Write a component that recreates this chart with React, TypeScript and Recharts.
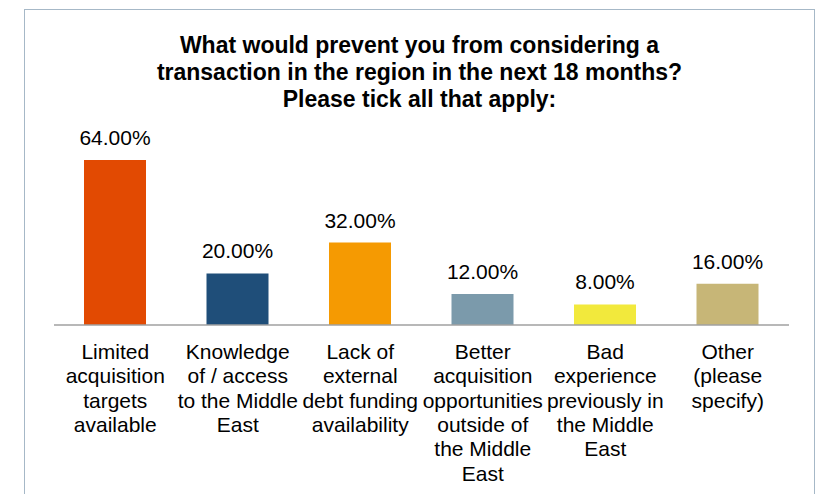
import React from 'react';
import { BarChart, Bar, XAxis, YAxis, Cell, LabelList } from 'recharts';

// Survey question: reasons that would prevent a transaction in the region.
const categories = [
  'Limited acquisition targets available',
  'Knowledge of / access to the Middle East',
  'Lack of external debt funding availability',
  'Better acquisition opportunities outside of the Middle East',
  'Bad experience previously in the Middle East',
  'Other (please specify)',
];

// Tick labels, broken into lines as in the original chart.
const tickLines = [
  ['Limited', 'acquisition', 'targets', 'available'],
  ['Knowledge', 'of / access', 'to the Middle', 'East'],
  ['Lack of', 'external', 'debt funding', 'availability'],
  ['Better', 'acquisition', 'opportunities', 'outside of', 'the Middle', 'East'],
  ['Bad', 'experience', 'previously in', 'the Middle', 'East'],
  ['Other', '(please', 'specify)'],
];

const percentages = [64, 20, 32, 12, 8, 16];

const barColors = ['#e24a02', '#1f4e79', '#f59a02', '#7b9aab', '#f2e93c', '#c7b677'];

const titleLines = [
  'What would prevent you from considering a',
  'transaction in the region in the next 18 months?',
  'Please tick all that apply:',
];

const data = categories.map((name, i) => ({ name, value: percentages[i], idx: i }));

const FONT = '"Liberation Sans", Arial, sans-serif';

// Multi-line category label under each bar
const CategoryTick = ({ x, y, index }: any) => {
  const lines = tickLines[index] || [];
  return (
    <text x={x} y={y} textAnchor="middle" fill="#000" fontSize={21} fontFamily={FONT}>
      {lines.map((line, i) => (
        <tspan key={i} x={x} dy={i === 0 ? 34 : 24.3}>
          {line}
        </tspan>
      ))}
    </text>
  );
};

const App: React.FC = () => {
  return (
    <div style={{ position: 'absolute', left: 0, top: 0, width: 820, height: 494, overflow: 'hidden', background: '#fff' }}>
      {/* frame around the chart, bottom edge runs off the page */}
      <div
        style={{
          position: 'absolute',
          left: 24,
          top: 9,
          width: 791,
          height: 600,
          border: '1px solid #a6b8c7',
          boxSizing: 'border-box',
        }}
      />
      <div
        style={{
          position: 'absolute',
          left: 24,
          top: 32,
          width: 791,
          textAlign: 'center',
          fontFamily: FONT,
          fontWeight: 'bold',
          fontSize: 23,
          lineHeight: '27px',
          color: '#000',
        }}
      >
        {titleLines.map((t, i) => (
          <div key={i}>{t}</div>
        ))}
      </div>
      <div style={{ position: 'absolute', left: 0, top: 0 }}>
        <BarChart
          width={820}
          height={494}
          data={data}
          margin={{ top: 160, right: 31, bottom: 9, left: 54 }}
        >
          <XAxis
            dataKey="name"
            axisLine={{ stroke: '#a0a0a0', strokeWidth: 1.5 }}
            tickLine={false}
            tickSize={0}
            tickMargin={0}
            height={160}
            interval={0}
            tick={<CategoryTick />}
          />
          <YAxis hide domain={[0, 64]} />
          <Bar dataKey="value" barSize={62} isAnimationActive={false}>
            {data.map((d) => (
              <Cell key={d.name} fill={barColors[d.idx]} />
            ))}
            <LabelList
              dataKey="value"
              position="top"
              offset={15}
              formatter={(v: any) => `${Number(v).toFixed(2)}%`}
              fill="#000"
              fontSize={21}
              fontFamily={FONT}
            />
          </Bar>
        </BarChart>
      </div>
    </div>
  );
};

export default App;
